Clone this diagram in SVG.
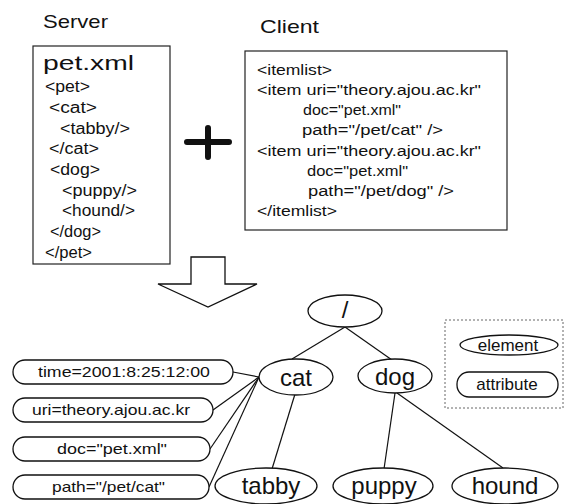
<svg xmlns="http://www.w3.org/2000/svg" width="568" height="504" viewBox="0 0 568 504">
<style>
  text { font-family: "Liberation Sans", Arial, sans-serif; fill: #111; }
  .title { font-size: 19px; }
  .code { font-size: 16px; }
  .ccode { font-size: 15.5px; }
  .big { font-size: 21px; }
  .node { font-size: 24px; text-anchor: middle; }
  .attr { font-size: 15px; }
  .leg { font-size: 17px; text-anchor: middle; }
  .box { fill: #fff; stroke: #222; stroke-width: 1.2; }
  .shape { fill: #fff; stroke: #111; stroke-width: 1.3; }
  .edge { stroke: #111; stroke-width: 1.2; fill: none; }
</style>

<g id="server-label"><text class="title" x="43" y="28" textLength="65" lengthAdjust="spacingAndGlyphs">Server</text></g>
<g id="server-box">
  <rect class="box" x="33" y="46" width="137" height="218"/>
  <text class="big" x="43" y="70" textLength="91" lengthAdjust="spacingAndGlyphs">pet.xml</text>
  <text class="code" x="45" y="92" textLength="45" lengthAdjust="spacingAndGlyphs">&lt;pet&gt;</text>
  <text class="code" x="49" y="113" textLength="48" lengthAdjust="spacingAndGlyphs">&lt;cat&gt;</text>
  <text class="code" x="60" y="134" textLength="70" lengthAdjust="spacingAndGlyphs">&lt;tabby/&gt;</text>
  <text class="code" x="49" y="154" textLength="50" lengthAdjust="spacingAndGlyphs">&lt;/cat&gt;</text>
  <text class="code" x="50" y="175" textLength="50" lengthAdjust="spacingAndGlyphs">&lt;dog&gt;</text>
  <text class="code" x="62" y="196" textLength="75" lengthAdjust="spacingAndGlyphs">&lt;puppy/&gt;</text>
  <text class="code" x="62" y="216" textLength="73" lengthAdjust="spacingAndGlyphs">&lt;hound/&gt;</text>
  <text class="code" x="50" y="237" textLength="51" lengthAdjust="spacingAndGlyphs">&lt;/dog&gt;</text>
  <text class="code" x="45" y="258" textLength="47" lengthAdjust="spacingAndGlyphs">&lt;/pet&gt;</text>
</g>

<g id="plus">
  <path d="M187 142 H229 M208 128 V157" stroke="#111" stroke-width="6" stroke-linecap="round" fill="none"/>
</g>

<g id="client-label"><text class="title" x="260" y="33" textLength="59" lengthAdjust="spacingAndGlyphs">Client</text></g>
<g id="client-box">
  <rect class="box" x="245" y="51" width="262" height="179"/>
  <text class="ccode" x="257" y="75" textLength="75" lengthAdjust="spacingAndGlyphs">&lt;itemlist&gt;</text>
  <text class="ccode" x="257" y="95" textLength="224" lengthAdjust="spacingAndGlyphs">&lt;item uri="theory.ajou.ac.kr"</text>
  <text class="ccode" x="303" y="115" textLength="98" lengthAdjust="spacingAndGlyphs">doc="pet.xml"</text>
  <text class="ccode" x="302" y="135" textLength="141" lengthAdjust="spacingAndGlyphs">path="/pet/cat" /&gt;</text>
  <text class="ccode" x="257" y="156" textLength="224" lengthAdjust="spacingAndGlyphs">&lt;item uri="theory.ajou.ac.kr"</text>
  <text class="ccode" x="307" y="176" textLength="101" lengthAdjust="spacingAndGlyphs">doc="pet.xml"</text>
  <text class="ccode" x="308" y="196" textLength="146" lengthAdjust="spacingAndGlyphs">path="/pet/dog" /&gt;</text>
  <text class="ccode" x="257" y="216" textLength="80" lengthAdjust="spacingAndGlyphs">&lt;/itemlist&gt;</text>
</g>

<g id="arrow">
  <polygon class="shape" points="191,257 225,257 225,284 257,284 208,307 158,284 191,284"/>
</g>

<g id="connectors">
  <line class="edge" x1="345" y1="327" x2="292" y2="359"/>
  <line class="edge" x1="345" y1="327" x2="392" y2="360"/>
  <line class="edge" x1="295" y1="394" x2="272" y2="469"/>
  <line class="edge" x1="395" y1="393" x2="384" y2="469"/>
  <line class="edge" x1="397" y1="393" x2="503" y2="468"/>
  <line class="edge" x1="233" y1="372" x2="259" y2="377"/>
  <line class="edge" x1="213" y1="410" x2="259" y2="377"/>
  <line class="edge" x1="210" y1="449" x2="259" y2="377"/>
  <line class="edge" x1="209" y1="487" x2="259" y2="377"/>
</g>

<g id="node-root">
  <ellipse class="shape" cx="345" cy="311" rx="37" ry="16"/>
  <text class="node" x="345" y="318" font-size="22">/</text>
</g>
<g id="node-cat">
  <ellipse class="shape" cx="296" cy="377" rx="37" ry="18"/>
  <text class="node" x="296" y="386">cat</text>
</g>
<g id="node-dog">
  <ellipse class="shape" cx="395" cy="376" rx="37" ry="17"/>
  <text class="node" x="395" y="385">dog</text>
</g>
<g id="node-tabby">
  <ellipse class="shape" cx="266" cy="486" rx="51" ry="18"/>
  <text class="node" x="271" y="494">tabby</text>
</g>
<g id="node-puppy">
  <ellipse class="shape" cx="383" cy="486" rx="50" ry="18"/>
  <text class="node" x="384" y="494">puppy</text>
</g>
<g id="node-hound">
  <ellipse class="shape" cx="505" cy="486" rx="53" ry="18"/>
  <text class="node" x="505" y="494">hound</text>
</g>

<g id="attr-time">
  <rect class="shape" x="13" y="360" width="220" height="24" rx="12"/>
  <text class="attr" x="38" y="377" textLength="172" lengthAdjust="spacingAndGlyphs">time=2001:8:25:12:00</text>
</g>
<g id="attr-uri">
  <rect class="shape" x="13" y="398" width="200" height="24" rx="12"/>
  <text class="attr" x="32" y="415" textLength="158" lengthAdjust="spacingAndGlyphs">uri=theory.ajou.ac.kr</text>
</g>
<g id="attr-doc">
  <rect class="shape" x="13" y="437" width="197" height="24" rx="12"/>
  <text class="attr" x="57" y="454" textLength="110" lengthAdjust="spacingAndGlyphs">doc="pet.xml"</text>
</g>
<g id="attr-path">
  <rect class="shape" x="13" y="475" width="196" height="24" rx="12"/>
  <text class="attr" x="52" y="492" textLength="113" lengthAdjust="spacingAndGlyphs">path="/pet/cat"</text>
</g>

<g id="legend">
  <rect x="445" y="320" width="118" height="88" fill="none" stroke="#666" stroke-width="1" stroke-dasharray="2,2"/>
  <ellipse class="shape" cx="509" cy="345" rx="49" ry="10"/>
  <text class="leg" x="508" y="351">element</text>
  <rect class="shape" x="457" y="372" width="101" height="25" rx="12"/>
  <text class="leg" x="507" y="390">attribute</text>
</g>
</svg>
